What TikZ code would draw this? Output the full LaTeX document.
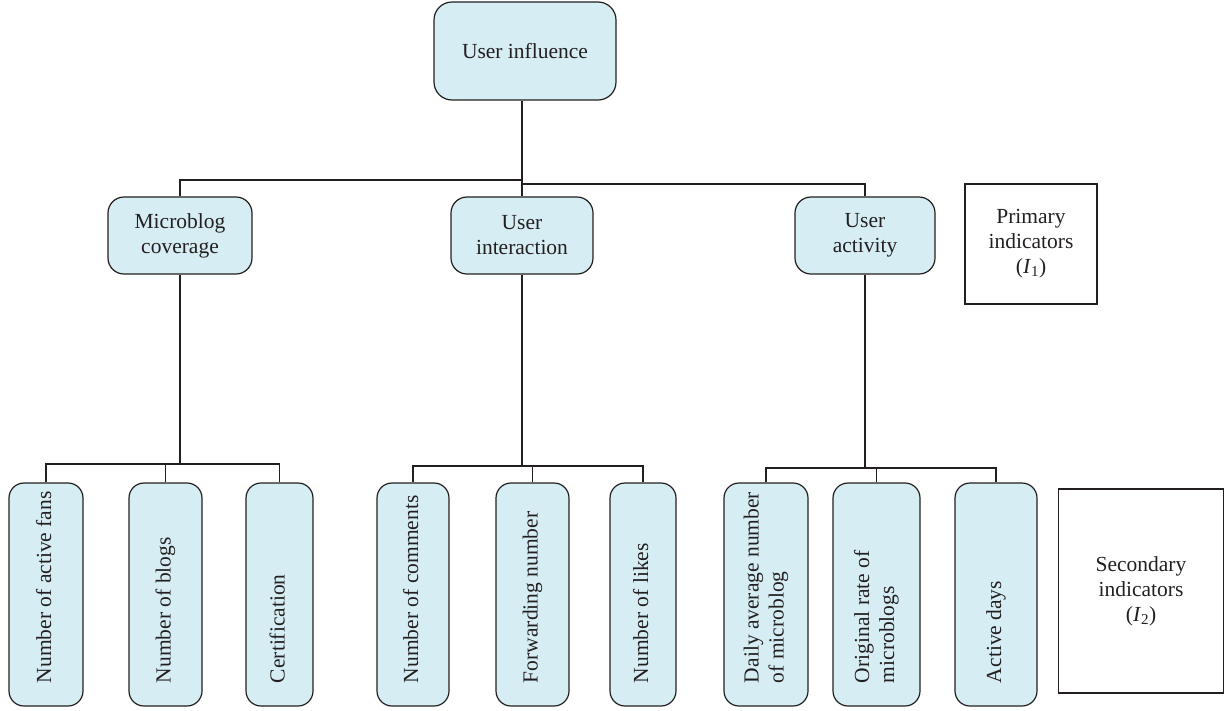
\documentclass[tikz,border=0pt]{standalone}
\usepackage{fontspec}
\setmainfont{Liberation Serif}
\usetikzlibrary{positioning}
\definecolor{boxfill}{RGB}{214,238,243}
\definecolor{ink}{RGB}{35,31,32}
\tikzset{
  rbox/.style={draw=ink, fill=boxfill, line width=1.2pt, rounded corners=16pt, align=center, inner sep=0pt, text=ink},
  lvlbox/.style={rbox, minimum height=77pt},
  leaf/.style={rbox, minimum height=223pt, rounded corners=15pt},
  legendbox/.style={draw=ink, line width=1.3pt, align=center, inner sep=0pt, text=ink},
  conn/.style={draw=ink, line width=1.1pt},
}
\newcommand{\leaftext}[1]{\rotatebox{90}{\makebox[177pt][l]{\begin{tabular}{@{}l@{}}#1\end{tabular}}}}
\begin{document}
\begin{tikzpicture}[x=1pt,y=-1pt, font=\fontsize{21.5pt}{25pt}\selectfont]
\useasboundingbox (0,0) rectangle (1225,710);
% root
\node[rbox, minimum width=182pt, minimum height=98pt, rounded corners=18pt] (root) at (525,51) {User influence};
% level 2
\node[lvlbox, minimum width=144pt] (mc) at (180,235.5) {Microblog\\coverage};
\node[lvlbox, minimum width=142pt] (ui) at (522,235.5) {User\\interaction};
\node[lvlbox, minimum width=140pt] (ua) at (865,235.5) {User\\activity};
% legend
\node[legendbox, minimum width=132pt, minimum height=120pt] (prim) at (1031,244) {Primary\\indicators\\(\textit{I}\textsubscript{1})};
\node[legendbox, minimum width=165pt, minimum height=204pt] (sec) at (1141,591) {Secondary\\indicators\\(\textit{I}\textsubscript{2})};
% leaves
\node[leaf, minimum width=74pt] (b1) at (46,594.5) {\leaftext{Number of active fans}};
\node[leaf, minimum width=73pt] (b2) at (165.5,594.5) {\leaftext{Number of blogs}};
\node[leaf, minimum width=67pt] (b3) at (279.5,594.5) {\leaftext{Certification}};
\node[leaf, minimum width=72pt] (b4) at (413,594.5) {\leaftext{Number of comments}};
\node[leaf, minimum width=73pt] (b5) at (532.5,594.5) {\leaftext{Forwarding number}};
\node[leaf, minimum width=66pt] (b6) at (643,594.5) {\leaftext{Number of likes}};
\node[leaf, minimum width=84pt] (b7) at (766,594.5) {\leaftext{Daily average number\\of microblog}};
\node[leaf, minimum width=87pt] (b8) at (876.5,594.5) {\leaftext{Original rate of\\microblogs}};
\node[leaf, minimum width=82pt] (b9) at (996,594.5) {\leaftext{Active days}};
% junction levels
\coordinate (hA) at (0,180);
\coordinate (hB) at (0,184);
\coordinate (h1) at (0,464);
\coordinate (h2) at (0,466);
\coordinate (h3) at (0,468);
% connectors level 1 -> 2
\draw[conn] (root.south -| ui.north) -- (ui.north);
\draw[conn] (ui.north |- hA) -| (mc.north);
\draw[conn] (ui.north |- hB) -| (ua.north);
% connectors level 2 -> 3
\draw[conn] (mc.south) -- (mc.south |- h1);
\draw[conn] (b1.north) |- (b3.north |- h1) -- (b3.north);
\draw[conn] (b2.north) -- (b2.north |- h1);
\draw[conn] (ui.south) -- (ui.south |- h2);
\draw[conn] (b4.north) |- (b6.north |- h2) -- (b6.north);
\draw[conn] (b5.north) -- (b5.north |- h2);
\draw[conn] (ua.south) -- (ua.south |- h3);
\draw[conn] (b7.north) |- (b9.north |- h3) -- (b9.north);
\draw[conn] (b8.north) -- (b8.north |- h3);
\end{tikzpicture}
\end{document}
